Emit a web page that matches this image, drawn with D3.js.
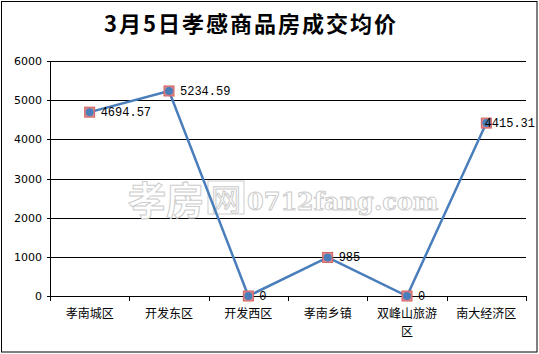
<!DOCTYPE html>
<html>
<head>
<meta charset="utf-8">
<script src="https://cdn.jsdelivr.net/npm/d3@7"></script>
<style>
  body { margin: 0; background: #fff; }
  text { font-family: "Noto Sans CJK SC", "DejaVu Sans", sans-serif; }
</style>
</head>
<body>
<div id="board"></div>
<script>
let categories = ["孝南城区", "开发东区", "开发西区", "孝南乡镇", "双峰山旅游区", "南大经济区"];
let prices = [4694.57, 5234.59, 0, 985, 0, 4415.31];
let priceLabels = ["4694.57", "5234.59", "0", "985", "0", "4415.31"];
let yTicks = [0, 1000, 2000, 3000, 4000, 5000, 6000];

let W = 539, H = 354;
let plotLeft = 50, plotRight = 526, plotTop = 61, plotBottom = 296;

let board = d3.select("#board")
    .append("svg")
    .attr("width", W)
    .attr("height", H);

board.append("rect")
    .attr("x", 1.5)
    .attr("y", 1.5)
    .attr("width", 535.5)
    .attr("height", 350.5)
    .attr("fill", "white")
    .style("stroke", "black");

board.append("text")
    .attr("x", 251)
    .attr("y", 32)
    .attr("text-anchor", "middle")
    .style("font-size", "22px")
    .style("font-weight", "bold")
    .style("letter-spacing", "2px")
    .text("3月5日孝感商品房成交均价");

let x = d3.scaleBand().domain(categories).range([plotLeft, plotRight]);
let y = d3.scaleLinear().domain([0, 6000]).range([plotBottom, plotTop]);

// grid lines
board.append("g")
    .selectAll("line")
    .data(yTicks)
    .join("line")
    .attr("x1", plotLeft - 3)
    .attr("x2", plotRight)
    .attr("y1", d => Math.round(y(d)) + 0.5)
    .attr("y2", d => Math.round(y(d)) + 0.5)
    .style("stroke", "black");

board.append("line")
    .attr("x1", plotLeft + 0.5).attr("x2", plotLeft + 0.5)
    .attr("y1", plotTop).attr("y2", plotBottom)
    .style("stroke", "black");

board.append("g")
    .selectAll("text")
    .data(yTicks)
    .join("text")
    .attr("x", plotLeft - 8)
    .attr("y", d => y(d) + 4)
    .attr("text-anchor", "end")
    .style("font-family", "DejaVu Sans")
    .style("font-size", "11px")
    .text(d => d);

// x axis ticks
let tickPos = categories.map(c => x(c)).concat([plotRight]);
board.append("g")
    .selectAll("line")
    .data(tickPos)
    .join("line")
    .attr("x1", d => Math.round(d) + 0.5)
    .attr("x2", d => Math.round(d) + 0.5)
    .attr("y1", plotBottom)
    .attr("y2", plotBottom + 5)
    .style("stroke", "black");

// category labels (wrap at 5 chars)
let catText = board.append("g")
    .selectAll("text")
    .data(categories)
    .join("text")
    .attr("x", d => x(d) + x.bandwidth() / 2)
    .attr("y", plotBottom + 22)
    .attr("text-anchor", "middle")
    .style("font-size", "12px");
catText.each(function (d) {
    let parts = d.length > 5 ? [d.slice(0, 5), d.slice(5)] : [d];
    d3.select(this).selectAll("tspan")
        .data(parts)
        .join("tspan")
        .attr("x", x(d) + x.bandwidth() / 2)
        .attr("dy", (p, i) => i === 0 ? 0 : 18)
        .text(p => p);
});

// watermark
let wm = board.append("g")
    .style("fill", "white")
    .style("stroke", "#cccccc")
    .style("stroke-width", 1);
wm.append("text")
    .attr("x", 128).attr("y", 214)
    .style("font-size", "38px")
    .style("font-weight", "bold")
    .text("孝房");
wm.append("rect")
    .attr("x", 208).attr("y", 181)
    .attr("width", 36).attr("height", 33);
wm.append("text")
    .attr("x", 211).attr("y", 210)
    .style("font-size", "30px")
    .text("网");
wm.append("text")
    .attr("x", 247).attr("y", 210)
    .style("font-family", "DejaVu Serif")
    .style("font-size", "24px")
    .style("font-weight", "bold")
    .text("0712fang.com");

let pts = categories.map((c, i) => ({ c: c, v: prices[i], label: priceLabels[i] }));

board.append("path")
    .datum(pts)
    .attr("d", d3.line().x(d => x(d.c) + x.bandwidth() / 2).y(d => y(d.v)))
    .attr("fill", "none")
    .style("stroke", "#4a7ebb")
    .style("stroke-width", 2.5);

let mk = board.append("g")
    .selectAll("g")
    .data(pts)
    .join("g")
    .attr("transform", d => `translate(${x(d.c) + x.bandwidth() / 2},${y(d.v)})`);
mk.append("rect")
    .attr("x", -5).attr("y", -5)
    .attr("width", 10).attr("height", 10)
    .attr("fill", "#e08a8a")
    .style("stroke", "#d06060")
    .style("stroke-width", 1);
mk.append("circle")
    .attr("r", 4)
    .attr("fill", "#4a7ebb");

board.append("g")
    .selectAll("text")
    .data(pts)
    .join("text")
    .attr("x", d => Math.min(x(d.c) + x.bandwidth() / 2 + 11, W - 4 - d.label.length * 7.2))
    .attr("y", d => y(d.v) + 4)
    .style("font-family", "Liberation Mono")
    .style("font-size", "12px")
    .text(d => d.label);
</script>
</body>
</html>
